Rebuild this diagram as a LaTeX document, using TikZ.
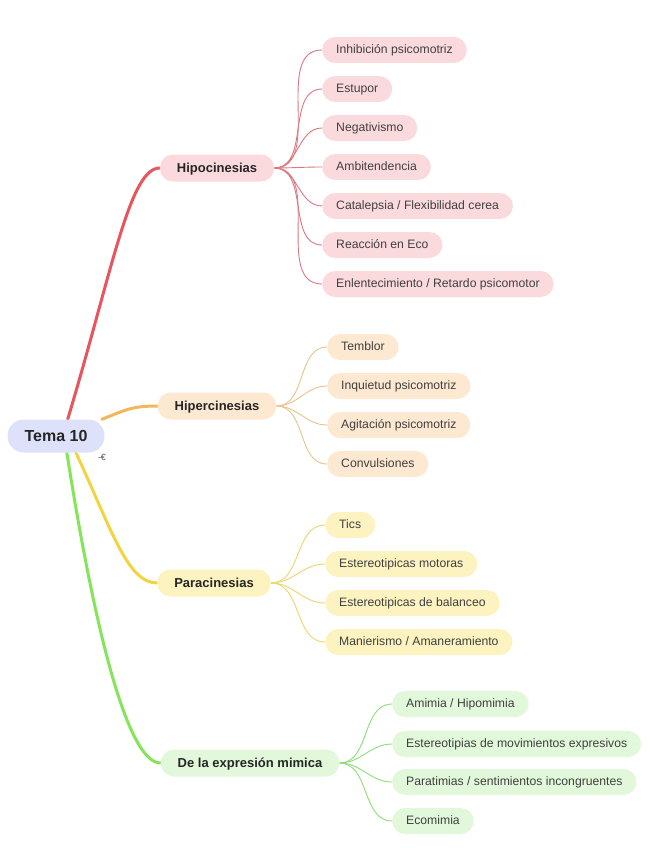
\documentclass[tikz,border=0pt]{standalone}
\usepackage{fontspec}
\setmainfont{Liberation Sans}
\usetikzlibrary{backgrounds}

\definecolor{rootfill}{HTML}{DDE2FA}
\definecolor{hipoline}{HTML}{E8555E}
\definecolor{hipofill}{HTML}{FBDADE}
\definecolor{hipothin}{HTML}{D8787F}
\definecolor{hiperline}{HTML}{F3B65A}
\definecolor{hiperfill}{HTML}{FDE8D1}
\definecolor{hiperthin}{HTML}{E6C38C}
\definecolor{paraline}{HTML}{F2D440}
\definecolor{parafill}{HTML}{FDF3C0}
\definecolor{parathin}{HTML}{EBD56C}
\definecolor{mimline}{HTML}{84E55A}
\definecolor{mimfill}{HTML}{E2F8DA}
\definecolor{mimthin}{HTML}{8EDD78}

\tikzset{
    rootbox/.style={fill=rootfill, rounded corners=16pt, minimum height=33pt,
        inner xsep=17pt, text height=11.5pt, text depth=1pt,
        font=\fontsize{16}{18}\selectfont\bfseries, text=black!85},
    headbox/.style={rounded corners=13pt, minimum height=27pt, inner xsep=17pt,
        text height=9.5pt, text depth=1.5pt,
        font=\fontsize{13}{15}\selectfont\bfseries, text=black!85},
    leafbox/.style={rounded corners=13pt, minimum height=26pt, inner xsep=14pt,
        text height=8.5pt, text depth=1.5pt,
        anchor=west, font=\fontsize{12.2}{14}\selectfont, text=black!75},
    mainlink/.style={line width=3pt, line cap=round},
    leaflink/.style={line width=0.9pt}
}

\begin{document}
\begin{tikzpicture}[x=1pt, y=-1pt]
    \useasboundingbox (0,0) rectangle (656,848);

    % Root
    \node[rootbox] (root) at (56,436) {Tema 10};
    \node[font=\fontsize{9}{9}\selectfont, text=black!70] (rooticon) at (102,457) {-€};

    % Main branches
    \node[headbox, fill=hipofill]  (hipo)  at (217,168) {Hipocinesias};
    \node[headbox, fill=hiperfill] (hiper) at (217,406) {Hipercinesias};
    \node[headbox, fill=parafill]  (para)  at (214,583) {Paracinesias};
    \node[headbox, fill=mimfill]   (mim)   at (250,763) {De la expresión mimica};

    % Hipocinesias
    \node[leafbox, fill=hipofill] (hipoA) at (322,50)  {Inhibición psicomotriz};
    \node[leafbox, fill=hipofill] (hipoB) at (322,89)  {Estupor};
    \node[leafbox, fill=hipofill] (hipoC) at (322,128) {Negativismo};
    \node[leafbox, fill=hipofill] (hipoD) at (322,167) {Ambitendencia};
    \node[leafbox, fill=hipofill] (hipoE) at (322,206) {Catalepsia / Flexibilidad cerea};
    \node[leafbox, fill=hipofill] (hipoF) at (322,245) {Reacción en Eco};
    \node[leafbox, fill=hipofill] (hipoG) at (322,284) {Enlentecimiento / Retardo psicomotor};

    % Hipercinesias
    \node[leafbox, fill=hiperfill] (hiperA) at (327,347) {Temblor};
    \node[leafbox, fill=hiperfill] (hiperB) at (327,386) {Inquietud psicomotriz};
    \node[leafbox, fill=hiperfill] (hiperC) at (327,425) {Agitación psicomotriz};
    \node[leafbox, fill=hiperfill] (hiperD) at (327,464) {Convulsiones};

    % Paracinesias
    \node[leafbox, fill=parafill] (paraA) at (325,525) {Tics};
    \node[leafbox, fill=parafill] (paraB) at (325,564) {Estereotipicas motoras};
    \node[leafbox, fill=parafill] (paraC) at (325,603) {Estereotipicas de balanceo};
    \node[leafbox, fill=parafill] (paraD) at (325,642) {Manierismo / Amaneramiento};

    % De la expresion mimica
    \node[leafbox, fill=mimfill] (mimA) at (392,704) {Amimia / Hipomimia};
    \node[leafbox, fill=mimfill] (mimB) at (392,744) {Estereotipias de movimientos expresivos};
    \node[leafbox, fill=mimfill] (mimC) at (392,782) {Paratimias / sentimientos incongruentes};
    \node[leafbox, fill=mimfill] (mimD) at (392,821) {Ecomimia};

    \begin{scope}[on background layer]
        % root to branches
        \draw[mainlink, hipoline]  (root.55)  .. controls +(45,-150) and +(-30,0) .. (hipo.west);
        \draw[mainlink, hiperline] (root.20)  .. controls +(25,-10) and +(-25,0) .. (hiper.west);
        \draw[mainlink, paraline]  (root.-40) .. controls +(35,75) and +(-30,0) .. (para.west);
        \draw[mainlink, mimline]   (root.-57) .. controls +(25,160) and +(-35,0) .. (mim.west);

        % branches to leaves
        \foreach \leaf in {hipoA,hipoB,hipoC,hipoD,hipoE,hipoF,hipoG}
            \draw[leaflink, hipothin] (hipo.east) to[out=0, in=180] (\leaf.west);
        \foreach \leaf in {hiperA,hiperB,hiperC,hiperD}
            \draw[leaflink, hiperthin] (hiper.east) to[out=0, in=180] (\leaf.west);
        \foreach \leaf in {paraA,paraB,paraC,paraD}
            \draw[leaflink, parathin] (para.east) to[out=0, in=180] (\leaf.west);
        \foreach \leaf in {mimA,mimB,mimC,mimD}
            \draw[leaflink, mimthin] (mim.east) to[out=0, in=180] (\leaf.west);
    \end{scope}

\end{tikzpicture}
\end{document}
